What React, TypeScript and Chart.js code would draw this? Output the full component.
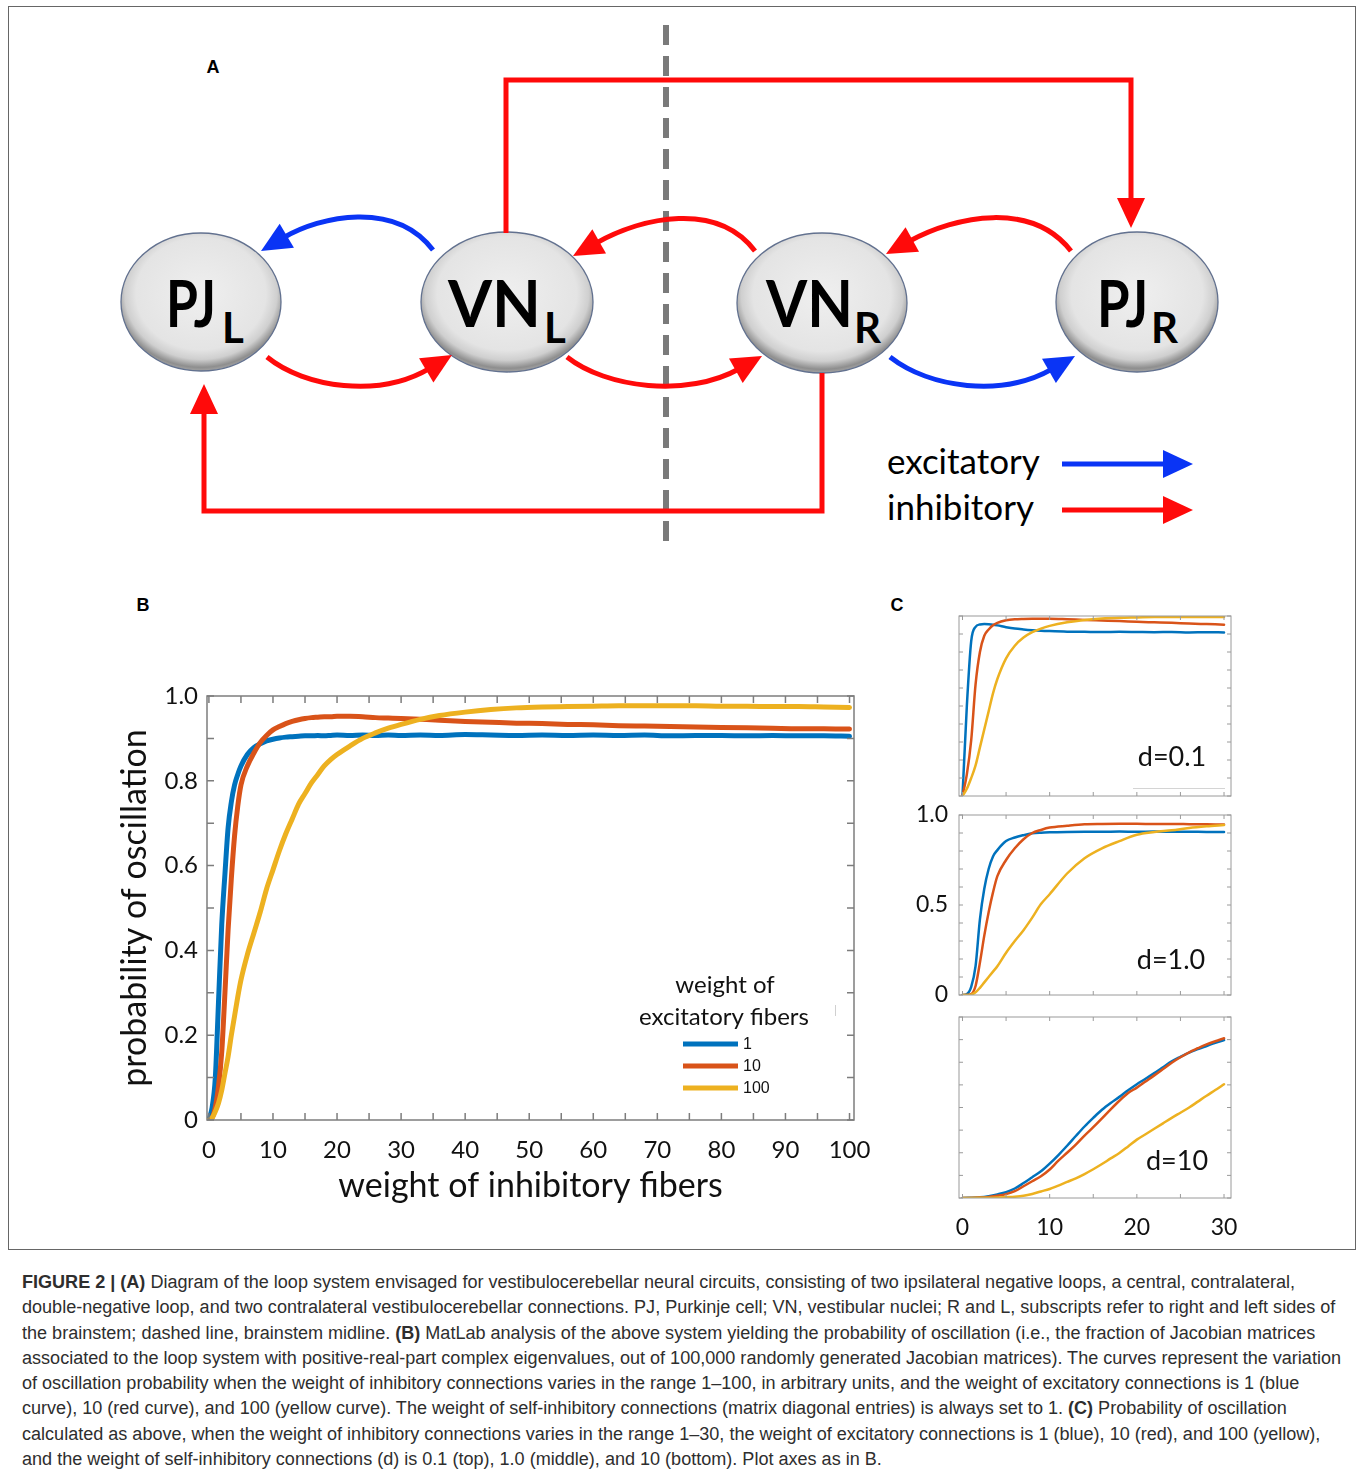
import React, { useEffect, useLayoutEffect, useRef, useState } from 'react';
import { Chart, registerables } from 'chart.js';
Chart.register(...registerables);

// ---------------- DATA ----------------
const SERIES_COLORS = ['#0072BD', '#D95319', '#EDB120'];
const EXC_LABELS = ['1', '10', '100'];

// Panel B: weight of inhibitory fibers (0-100)
const B_X = [0, 0.5, 1, 1.5, 2, 2.5, 3, 3.5, 4, 4.5, 5, 6, 7, 8, 9, 10, 11, 12, 13, 14, 15, 16, 17, 18, 19, 20, 22, 24, 26, 28, 30, 33, 36, 40, 44, 48, 52, 56, 60, 64, 68, 72, 76, 80, 84, 88, 92, 96, 100];
const B_BLUE = [0, 0.03, 0.1, 0.28, 0.46, 0.58, 0.69, 0.75, 0.79, 0.815, 0.835, 0.862, 0.878, 0.887, 0.894, 0.898, 0.901, 0.903, 0.904, 0.905, 0.906, 0.906, 0.907, 0.906, 0.907, 0.908, 0.907, 0.908, 0.907, 0.908, 0.907, 0.908, 0.907, 0.909, 0.908, 0.907, 0.908, 0.907, 0.908, 0.907, 0.908, 0.906, 0.907, 0.907, 0.906, 0.907, 0.906, 0.906, 0.905];
const B_RED = [0, 0.005, 0.03, 0.08, 0.16, 0.3, 0.45, 0.57, 0.67, 0.74, 0.79, 0.835, 0.865, 0.89, 0.907, 0.92, 0.928, 0.935, 0.94, 0.944, 0.947, 0.949, 0.95, 0.951, 0.951, 0.952, 0.952, 0.951, 0.949, 0.948, 0.947, 0.945, 0.943, 0.94, 0.938, 0.936, 0.935, 0.933, 0.932, 0.93, 0.929, 0.928, 0.927, 0.926, 0.925, 0.924, 0.923, 0.923, 0.922];
const B_YEL = [0, 0.005, 0.02, 0.04, 0.07, 0.11, 0.15, 0.2, 0.245, 0.29, 0.33, 0.39, 0.44, 0.49, 0.545, 0.59, 0.635, 0.675, 0.71, 0.745, 0.77, 0.795, 0.815, 0.835, 0.85, 0.862, 0.882, 0.9, 0.913, 0.924, 0.933, 0.945, 0.954, 0.962, 0.968, 0.972, 0.974, 0.975, 0.976, 0.977, 0.977, 0.977, 0.977, 0.976, 0.976, 0.975, 0.975, 0.974, 0.973];
const B_X_TICKS = [0, 10, 20, 30, 40, 50, 60, 70, 80, 90, 100];
const B_Y_TICKS = ['0', '0.2', '0.4', '0.6', '0.8', '1.0'];

// Panel C: weight of inhibitory fibers (0-30)
const C_X = [0, 0.5, 1, 1.5, 2, 2.5, 3, 3.5, 4, 5, 6, 7, 8, 9, 10, 12, 14, 16, 18, 20, 22, 24, 26, 28, 30];
const C1_BLUE = [0, 0.5, 0.86, 0.94, 0.953, 0.955, 0.954, 0.952, 0.948, 0.938, 0.93, 0.925, 0.921, 0.918, 0.916, 0.913, 0.912, 0.911, 0.912, 0.911, 0.91, 0.911, 0.909, 0.91, 0.909];
const C1_RED = [0, 0.12, 0.31, 0.62, 0.8, 0.89, 0.925, 0.948, 0.962, 0.976, 0.982, 0.984, 0.985, 0.985, 0.985, 0.982, 0.978, 0.975, 0.972, 0.968, 0.965, 0.962, 0.958, 0.955, 0.952];
const C1_YEL = [0, 0.04, 0.1, 0.17, 0.27, 0.37, 0.47, 0.57, 0.65, 0.765, 0.835, 0.88, 0.91, 0.93, 0.945, 0.965, 0.978, 0.986, 0.99, 0.992, 0.994, 0.995, 0.995, 0.995, 0.995];
const C2_BLUE = [0, 0.005, 0.045, 0.16, 0.42, 0.59, 0.7, 0.77, 0.805, 0.855, 0.875, 0.888, 0.898, 0.902, 0.904, 0.906, 0.907, 0.907, 0.908, 0.907, 0.908, 0.907, 0.907, 0.906, 0.906];
const C2_RED = [0, 0, 0.005, 0.05, 0.18, 0.33, 0.46, 0.57, 0.66, 0.75, 0.815, 0.865, 0.9, 0.917, 0.93, 0.94, 0.948, 0.95, 0.951, 0.951, 0.95, 0.95, 0.949, 0.948, 0.947];
const C2_YEL = [0, 0, 0.002, 0.015, 0.04, 0.07, 0.1, 0.13, 0.16, 0.235, 0.3, 0.36, 0.43, 0.505, 0.56, 0.675, 0.76, 0.815, 0.855, 0.89, 0.905, 0.915, 0.928, 0.937, 0.944];
const C3_X = [0, 2, 3, 4, 5, 6, 7, 8, 9, 10, 11, 12, 13, 14, 15, 16, 17, 18, 19, 20, 21, 22, 23, 24, 25, 26, 27, 28, 29, 30];
const C3_BLUE = [0, 0.003, 0.008, 0.016, 0.026, 0.042, 0.066, 0.092, 0.118, 0.152, 0.19, 0.231, 0.274, 0.316, 0.354, 0.39, 0.42, 0.447, 0.476, 0.503, 0.527, 0.552, 0.578, 0.604, 0.624, 0.643, 0.658, 0.672, 0.686, 0.698];
const C3_RED = [0, 0.002, 0.005, 0.01, 0.017, 0.03, 0.052, 0.074, 0.096, 0.126, 0.165, 0.2, 0.236, 0.276, 0.313, 0.352, 0.392, 0.43, 0.464, 0.488, 0.515, 0.542, 0.57, 0.598, 0.622, 0.644, 0.662, 0.679, 0.693, 0.706];
const C3_YEL = [0, 0.001, 0.001, 0.002, 0.004, 0.006, 0.01, 0.018, 0.029, 0.04, 0.055, 0.071, 0.087, 0.106, 0.127, 0.15, 0.175, 0.199, 0.228, 0.258, 0.282, 0.306, 0.33, 0.354, 0.377, 0.4, 0.426, 0.452, 0.477, 0.503];
const C_X_TICKS = [0, 10, 20, 30];
const C_Y_TICKS: Record<number, string> = { 0: '0', 5: '0.5', 10: '1.0' };
const D_LABELS = ['d=0.1', 'd=1.0', 'd=10'];

const CAPTION: [string, boolean][][] = [
  [['FIGURE 2 | (A)', true], [' Diagram of the loop system envisaged for vestibulocerebellar neural circuits, consisting of two ipsilateral negative loops, a central, contralateral,', false]],
  [['double-negative loop, and two contralateral vestibulocerebellar connections. PJ, Purkinje cell; VN, vestibular nuclei; R and L, subscripts refer to right and left sides of', false]],
  [['the brainstem; dashed line, brainstem midline. ', false], ['(B)', true], [' MatLab analysis of the above system yielding the probability of oscillation (i.e., the fraction of Jacobian matrices', false]],
  [['associated to the loop system with positive-real-part complex eigenvalues, out of 100,000 randomly generated Jacobian matrices). The curves represent the variation', false]],
  [['of oscillation probability when the weight of inhibitory connections varies in the range 1\u2013100, in arbitrary units, and the weight of excitatory connections is 1 (blue', false]],
  [['curve), 10 (red curve), and 100 (yellow curve). The weight of self-inhibitory connections (matrix diagonal entries) is always set to 1. ', false], ['(C)', true], [' Probability of oscillation', false]],
  [['calculated as above, when the weight of inhibitory connections varies in the range 1\u201330, the weight of excitatory connections is 1 (blue), 10 (red), and 100 (yellow),', false]],
  [['and the weight of self-inhibitory connections (d) is 0.1 (top), 1.0 (middle), and 10 (bottom). Plot axes as in B.', false]],
];

// ---------------- HELPERS ----------------
function datasets(xs: number[], ys: number[][], width: number) {
  return ys.map((y, i) => ({
    label: EXC_LABELS[i],
    data: xs.map((x, j) => ({ x, y: y[j] })),
    borderColor: SERIES_COLORS[i],
    backgroundColor: SERIES_COLORS[i],
    borderWidth: width,
    pointRadius: 0,
    fill: false,
    cubicInterpolationMode: 'monotone',
    borderCapStyle: 'round',
    borderJoinStyle: 'round',
    order: 3 - i,
  }));
}

function boxPlugin(color: string, lw: number, len: number) {
  return {
    id: 'mbox',
    afterDatasetsDraw(chart: any) {
      const { ctx, chartArea: a } = chart;
      const xs = chart.scales.x, ys = chart.scales.y;
      ctx.save();
      ctx.strokeStyle = color;
      ctx.lineWidth = lw;
      ctx.beginPath();
      for (const t of xs.ticks) {
        const p = xs.getPixelForValue(t.value);
        ctx.moveTo(p, a.bottom); ctx.lineTo(p, a.bottom - len);
        ctx.moveTo(p, a.top); ctx.lineTo(p, a.top + len);
      }
      for (const t of ys.ticks) {
        const p = ys.getPixelForValue(t.value);
        ctx.moveTo(a.left, p); ctx.lineTo(a.left + len, p);
        ctx.moveTo(a.right, p); ctx.lineTo(a.right - len, p);
      }
      ctx.stroke();
      ctx.strokeRect(a.left, a.top, a.right - a.left, a.bottom - a.top);
      ctx.restore();
    },
  };
}

function overlay(draw: (chart: any) => void) {
  return { id: 'overlay', afterDraw: draw };
}

const TXT = '#111';
const NOGRID = { display: false, drawTicks: false, tickLength: 0 };

function cfgB() {
  return {
    type: 'line',
    data: { datasets: datasets(B_X, [B_BLUE, B_RED, B_YEL], 5) },
    options: {
      animation: false, responsive: false, maintainAspectRatio: false, events: [],
      layout: { padding: { top: 16, right: 26, left: 0, bottom: 0 } },
      plugins: { legend: { display: false }, tooltip: { enabled: false } },
      scales: {
        x: {
          type: 'linear', min: -0.3, max: 100.7,
          grid: NOGRID, border: { display: false },
          ticks: {
            stepSize: 5, includeBounds: false, autoSkip: false, maxRotation: 0, padding: 16, color: TXT,
            font: { family: 'Lato', size: 24 },
            callback: (v: any) => (B_X_TICKS.includes(Number(v)) ? String(v) : ''),
          },
          title: { display: true, text: 'weight of inhibitory fibers', color: TXT, font: { family: 'Lato', size: 34 }, padding: { top: 0, bottom: 14 } },
          afterFit: (s: any) => { s.height = 100; s.paddingLeft = 0; s.paddingRight = 0; },
        },
        y: {
          type: 'linear', min: 0, max: 1,
          grid: NOGRID, border: { display: false },
          ticks: {
            stepSize: 0.1, autoSkip: false, padding: 9, color: TXT,
            font: { family: 'Lato', size: 24 },
            callback: (v: any) => { const r = Math.round(Number(v) * 10); return r % 2 ? '' : B_Y_TICKS[r / 2]; },
          },
          title: { display: true, text: 'probability of oscillation', color: TXT, font: { family: 'Lato', size: 34 }, padding: { top: 15, bottom: 0 } },
          afterFit: (s: any) => { s.width = 107; s.paddingTop = 0; s.paddingBottom = 0; },
        },
      },
    },
    plugins: [
      boxPlugin('#7d7d7d', 1.5, 7),
      overlay((chart: any) => {
        const { ctx, chartArea: a } = chart;
        ctx.save();
        ctx.fillStyle = TXT;
        ctx.textAlign = 'center';
        ctx.textBaseline = 'middle';
        ctx.font = '24px Lato';
        ctx.fillText('weight of', a.right - 129, a.bottom - 135);
        ctx.fillText('excitatory fibers', a.right - 130, a.bottom - 103);
        chart.data.datasets.forEach((ds: any, i: number) => {
          const y = a.bottom - 76 + i * 22;
          ctx.strokeStyle = ds.borderColor;
          ctx.lineWidth = 5;
          ctx.beginPath(); ctx.moveTo(a.right - 171, y); ctx.lineTo(a.right - 116, y); ctx.stroke();
          ctx.fillStyle = TXT;
          ctx.textAlign = 'left';
          ctx.font = '16px "Liberation Sans"';
          ctx.fillText(ds.label, a.right - 111, y + 1);
        });
        ctx.strokeStyle = '#d0d0d0';
        ctx.lineWidth = 1;
        ctx.beginPath(); ctx.moveTo(a.right - 18.5, a.bottom - 115); ctx.lineTo(a.right - 18.5, a.bottom - 104); ctx.stroke();
        ctx.restore();
      }),
    ],
  };
}

function cfgC(xs: number[], ys: number[][], yMax: number, showY: boolean, showX: boolean,
  padTop: number, xHeight: number, note: string, noteDx: number, noteDy: number, extra?: (chart: any) => void) {
  return {
    type: 'line',
    data: { datasets: datasets(xs, ys, 2.5) },
    options: {
      animation: false, responsive: false, maintainAspectRatio: false, events: [],
      layout: { padding: { top: padTop, right: 19, left: 0, bottom: 0 } },
      plugins: { legend: { display: false }, tooltip: { enabled: false } },
      scales: {
        x: {
          type: 'linear', min: -0.4, max: 30.8,
          grid: NOGRID, border: { display: false },
          ticks: {
            stepSize: 5, includeBounds: false, autoSkip: false, maxRotation: 0, padding: 16, color: TXT,
            font: { family: 'Lato', size: 23 },
            callback: (v: any) => (showX && C_X_TICKS.includes(Number(v)) ? String(v) : ''),
          },
          afterFit: (s: any) => { s.height = xHeight; s.paddingLeft = 0; s.paddingRight = 0; },
        },
        y: {
          type: 'linear', min: 0, max: yMax,
          grid: NOGRID, border: { display: false },
          ticks: {
            stepSize: 0.1, autoSkip: false, padding: 11, color: TXT,
            font: { family: 'Lato', size: 23 },
            callback: (v: any) => { const r = Math.round(Number(v) * 10); return showY && C_Y_TICKS[r] !== undefined ? C_Y_TICKS[r] : ''; },
          },
          afterFit: (s: any) => { s.width = 59; s.paddingTop = 0; s.paddingBottom = 0; },
        },
      },
    },
    plugins: [
      boxPlugin('#9a9a9a', 1, 4),
      overlay((chart: any) => {
        const { ctx, chartArea: a } = chart;
        ctx.save();
        ctx.fillStyle = TXT;
        ctx.textAlign = 'center';
        ctx.textBaseline = 'middle';
        ctx.font = '27px Lato';
        ctx.fillText(note, a.right + noteDx, a.bottom + noteDy);
        if (extra) extra(chart);
        ctx.restore();
      }),
    ],
  };
}

// ---------------- DIAGRAM ----------------
type P = [number, number];
const RED = '#ff0a0a';
const BLUE = '#0a34f5';

function head(tip: P, ux: number, uy: number, color: string, len = 30, half = 14) {
  const bx = tip[0] - ux * len, by = tip[1] - uy * len;
  const pts = `${tip[0]},${tip[1]} ${bx - uy * half},${by + ux * half} ${bx + uy * half},${by - ux * half}`;
  return <polygon points={pts} fill={color} />;
}

function CurveArrow({ p0, c1, c2, p3, color }: { p0: P; c1: P; c2: P; p3: P; color: string }) {
  const dx = p3[0] - c2[0], dy = p3[1] - c2[1];
  const L = Math.hypot(dx, dy);
  const ux = dx / L, uy = dy / L;
  const ex = p3[0] - ux * 26, ey = p3[1] - uy * 26;
  const d = `M${p0[0]},${p0[1]} C${c1[0]},${c1[1]} ${c2[0] - ux * 12},${c2[1] - uy * 12} ${ex},${ey}`;
  return (
    <g>
      <path d={d} fill="none" stroke={color} strokeWidth={5} />
      {head(p3, ux, uy, color)}
    </g>
  );
}

const NODES = [
  { cx: 201, cy: 302, rx: 80, ry: 69, main: 'PJ', sub: 'L', mx: 166, mw: 50, sx: 222 },
  { cx: 507, cy: 302, rx: 86, ry: 70, main: 'VN', sub: 'L', mx: 448, mw: 93, sx: 544 },
  { cx: 822, cy: 303, rx: 85, ry: 70, main: 'VN', sub: 'R', mx: 766, mw: 87, sx: 854 },
  { cx: 1137, cy: 302, rx: 81, ry: 70, main: 'PJ', sub: 'R', mx: 1097, mw: 51, sx: 1151 },
];

function Diagram() {
  return (
    <svg width={1360} height={560} style={{ position: 'absolute', left: 0, top: 0 }}>
      <defs>
        <radialGradient id="ng" cx="50%" cy="44%" r="58%">
          <stop offset="0%" stopColor="#efefef" />
          <stop offset="70%" stopColor="#e4e4e4" />
          <stop offset="82%" stopColor="#cfcfcf" />
          <stop offset="92%" stopColor="#8e8e8e" />
          <stop offset="100%" stopColor="#b4b4b4" />
        </radialGradient>
      </defs>
      <line x1={666} y1={25} x2={666} y2={552} stroke="#7a7a7a" strokeWidth={6} strokeDasharray="20 11" />
      {NODES.map((n, i) => (
        <g key={i}>
          <ellipse cx={n.cx} cy={n.cy} rx={n.rx} ry={n.ry} fill="url(#ng)" stroke="#62718f" strokeWidth={1.3} />
          <text x={n.mx} y={327} fontFamily="Lato" fontWeight={700} fontSize={65} fill="#000" textLength={n.mw} lengthAdjust="spacingAndGlyphs">{n.main}</text>
          <text x={n.sx} y={343} fontFamily="Lato" fontWeight={700} fontSize={42} fill="#000">{n.sub}</text>
        </g>
      ))}
      {/* long connectors */}
      <path d="M506,233 L506,80 L1131,80 L1131,199" fill="none" stroke={RED} strokeWidth={5} />
      {head([1131, 228], 0, 1, RED)}
      <path d="M822,373 L822,511 L204,511 L204,412" fill="none" stroke={RED} strokeWidth={5} />
      {head([204, 384], 0, -1, RED)}
      {/* curved arrows */}
      <CurveArrow p0={[433, 250]} c1={[395, 200]} c2={[310, 222]} p3={[261, 251]} color={BLUE} />
      <CurveArrow p0={[267, 357]} c1={[305, 388]} c2={[390, 392]} p3={[452, 355]} color={RED} />
      <CurveArrow p0={[755, 251]} c1={[717, 201]} c2={[632, 223]} p3={[573, 256]} color={RED} />
      <CurveArrow p0={[567, 357]} c1={[606, 388]} c2={[698, 392]} p3={[762, 356]} color={RED} />
      <CurveArrow p0={[1071, 251]} c1={[1032, 201]} c2={[946, 221]} p3={[886, 254]} color={RED} />
      <CurveArrow p0={[890, 357]} c1={[930, 388]} c2={[1012, 392]} p3={[1075, 356]} color={BLUE} />
      {/* legend */}
      <text x={887} y={474} fontFamily="Lato" fontSize={35} fill="#000">excitatory</text>
      <text x={887} y={520} fontFamily="Lato" fontSize={35} fill="#000">inhibitory</text>
      <path d="M1062,464 L1166,464" stroke={BLUE} strokeWidth={5} />
      {head([1193, 464], 1, 0, BLUE)}
      <path d="M1062,510 L1166,510" stroke={RED} strokeWidth={5} />
      {head([1193, 510], 1, 0, RED)}
    </svg>
  );
}

// ---------------- APP ----------------
export default function App() {
  const bRef = useRef<HTMLCanvasElement>(null);
  const c1Ref = useRef<HTMLCanvasElement>(null);
  const c2Ref = useRef<HTMLCanvasElement>(null);
  const c3Ref = useRef<HTMLCanvasElement>(null);
  const capRefs = useRef<(HTMLSpanElement | null)[]>([]);
  const [capScale, setCapScale] = useState(1);

  useLayoutEffect(() => {
    const el = capRefs.current[3];
    if (el) {
      const w = el.getBoundingClientRect().width;
      if (w > 0) setCapScale(1319 / w);
    }
  }, []);

  useEffect(() => {
    const charts: Chart[] = [];
    charts.push(new Chart(bRef.current as HTMLCanvasElement, cfgB() as any));
    charts.push(new Chart(c1Ref.current as HTMLCanvasElement, cfgC(C_X, [C1_BLUE, C1_RED, C1_YEL], 1, false, false, 16, 14, D_LABELS[0], -59, -39,
      (chart: any) => {
        const { ctx, chartArea: a } = chart;
        ctx.strokeStyle = '#d4d4d4'; ctx.lineWidth = 1;
        ctx.beginPath(); ctx.moveTo(a.left + 174, a.bottom - 7.5); ctx.lineTo(a.right - 6, a.bottom - 7.5); ctx.stroke();
      }) as any));
    charts.push(new Chart(c2Ref.current as HTMLCanvasElement, cfgC(C_X, [C2_BLUE, C2_RED, C2_YEL], 1, true, false, 10, 10, D_LABELS[1], -60, -35) as any));
    charts.push(new Chart(c3Ref.current as HTMLCanvasElement, cfgC(C3_X, [C3_BLUE, C3_RED, C3_YEL], 0.8, false, true, 12, 57, D_LABELS[2], -54, -37) as any));
    return () => charts.forEach((c) => c.destroy());
  }, []);

  const letter = (t: string, x: number, y: number) => (
    <div style={{ position: 'absolute', left: x - 20, top: y - 12, width: 40, textAlign: 'center', font: 'bold 18px "Liberation Sans", Arial, sans-serif', lineHeight: '24px', color: '#000' }}>{t}</div>
  );

  return (
    <div style={{ position: 'absolute', left: 0, top: 0, width: 1360, height: 1479, background: '#fff', overflow: 'hidden' }}>
      <div style={{ position: 'absolute', left: 8, top: 6, width: 1348, height: 1244, border: '1.5px solid #666', boxSizing: 'border-box' }} />
      <Diagram />
      {letter('A', 213, 67)}
      {letter('B', 143, 605)}
      {letter('C', 897, 605)}
      <canvas ref={bRef} width={780} height={540} style={{ position: 'absolute', left: 100, top: 680 }} />
      <canvas ref={c1Ref} width={350} height={210} style={{ position: 'absolute', left: 900, top: 600 }} />
      <canvas ref={c2Ref} width={350} height={200} style={{ position: 'absolute', left: 900, top: 805 }} />
      <canvas ref={c3Ref} width={350} height={250} style={{ position: 'absolute', left: 900, top: 1005 }} />
      <div style={{ position: 'absolute', left: 22, top: 1270, transform: `scaleX(${capScale})`, transformOrigin: 'left top', font: '18px "Liberation Sans Narrow", "Liberation Sans", Arial, sans-serif', lineHeight: '25.3px', color: '#2e2e2e', whiteSpace: 'nowrap' }}>
        {CAPTION.map((line, i) => (
          <div key={i}>
            <span ref={(el) => { capRefs.current[i] = el; }} style={{ display: 'inline-block' }}>
              {line.map(([t, b], j) => (
                <span key={j} style={{ fontWeight: b ? 700 : 400 }}>{t}</span>
              ))}
            </span>
          </div>
        ))}
      </div>
    </div>
  );
}
